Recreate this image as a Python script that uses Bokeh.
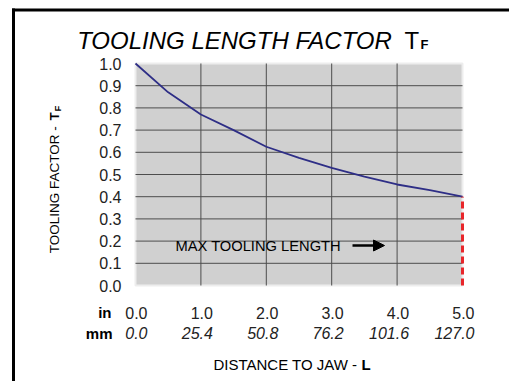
from bokeh.plotting import figure
from bokeh.models import (ColumnDataSource, Label, Arrow, NormalHead, Range1d)
from bokeh.core.properties import value
from bokeh.embed import file_html
from bokeh.resources import INLINE
from math import pi

# ---- data ----
dist_in = [0.0, 0.5, 1.0, 1.5, 2.0, 2.5, 3.0, 3.5, 4.0, 4.5, 5.0]
tooling_factor = [1.0, 0.87, 0.77, 0.70, 0.625, 0.575, 0.53, 0.49, 0.455, 0.43, 0.40]
x_ticks = [0, 1, 2, 3, 4, 5]
x_labels_in = ["0.0", "1.0", "2.0", "3.0", "4.0", "5.0"]
x_labels_mm = ["0.0", "25.4", "50.8", "76.2", "101.6", "127.0"]
y_ticks = [0.0, 0.1, 0.2, 0.3, 0.4, 0.5, 0.6, 0.7, 0.8, 0.9, 1.0]
y_labels = ["0.0", "0.1", "0.2", "0.3", "0.4", "0.5", "0.6", "0.7", "0.8", "0.9", "1.0"]

FONT = "Liberation Sans"

# layout geometry (page pixels)
CX, CY = 0, 0                 # canvas origin on page
W, H = 509, 381               # canvas size
PL, PT, PW, PH = 135, 63, 327, 222   # plot area on page
XMAX, YMAX = x_ticks[-1], y_ticks[-1]

def px2x(px):
    return (px - PL) / PW * XMAX

def py2y(py):
    return (PT + PH - py) / PH * YMAX

p = figure(width=W, height=H, title=None,
           x_range=Range1d(px2x(CX), px2x(CX + W)),
           y_range=Range1d(py2y(CY + H), py2y(CY)),
           output_backend="svg", toolbar_location=None,
           min_border=0)
p.axis.visible = False
p.grid.visible = False
p.outline_line_color = None
p.background_fill_color = "white"
p.border_fill_color = "white"

# outer box (left and top edges)
p.segment(x0=[px2x(13), px2x(11.5)], y0=[py2y(CY + H + 5), py2y(9.5)],
          x1=[px2x(13), px2x(CX + W + 5)], y1=[py2y(8), py2y(9.5)],
          line_color="black", line_width=3)

# plot area
p.quad(left=[x_ticks[0]], right=[x_ticks[-1]], bottom=[y_ticks[0]], top=[y_ticks[-1]],
       fill_color="#d0d0d0", line_color="#ededed", line_width=2)

# grid lines
gx = x_ticks[1:-1]
p.segment(x0=gx, y0=[y_ticks[0]] * len(gx), x1=gx, y1=[y_ticks[-1]] * len(gx),
          line_color="#4d4d4d", line_width=1)
gy = y_ticks[1:-1]
p.segment(x0=[x_ticks[0]] * len(gy), y0=gy, x1=[x_ticks[-1]] * len(gy), y1=gy,
          line_color="#4d4d4d", line_width=1)

# curve
src = ColumnDataSource(dict(x=dist_in, y=tooling_factor))
p.line("x", "y", source=src, line_color="#2e2e86", line_width=1.8)

# red dashed max length line
p.line(x=[dist_in[-1], dist_in[-1]], y=[y_ticks[0], tooling_factor[-1]],
       line_color="#e8262a", line_width=3, line_dash="7 4")

# tick labels
p.text(x=[x_ticks[0]] * len(y_ticks), y=y_ticks, text=y_labels, x_offset=-14,
       text_align="right", text_baseline="middle", text_font=value(FONT),
       text_font_size="16px", text_color="#222222")
p.text(x=x_ticks, y=[y_ticks[0]] * len(x_ticks), text=x_labels_in,
       x_offset=12, y_offset=27, text_align="right", text_baseline="middle",
       text_font=value(FONT), text_font_size="16px", text_color="#222222")
p.text(x=x_ticks, y=[y_ticks[0]] * len(x_ticks), text=x_labels_mm,
       x_offset=12, y_offset=47, text_align="right", text_baseline="middle",
       text_font=value(FONT), text_font_size="16px", text_font_style="italic",
       text_color="#222222")

def lab(text, px, py, size, style="normal", align="left", baseline="middle",
        angle=0.0, color="black"):
    p.add_layout(Label(x=px2x(px), y=py2y(py), text=text, text_font=FONT,
                       text_font_size=size, text_font_style=style,
                       text_align=align, text_baseline=baseline, angle=angle,
                       text_color=color))

# unit labels
lab("in", 111, 312, "15px", "bold", "right")
lab("mm", 112, 333, "15px", "bold", "right")

# title
lab("TOOLING LENGTH FACTOR", 234, 40, "24px", "italic", "center", "alphabetic")
lab("T", 404, 40, "24px", "normal", "left", "alphabetic")
lab("F", 420, 44, "13px", "bold", "left", "alphabetic")

# x axis label
lab("DISTANCE TO JAW - ", 361, 364, "15px", "normal", "right")
lab("L", 361, 364, "15px", "bold", "left")

# y axis label (rotated)
lab("TOOLING FACTOR - ", 54, 122, "13.5px", "normal", "right", "middle", pi / 2)
lab("T", 54, 120, "13.5px", "bold", "left", "middle", pi / 2)
lab("F", 57, 111, "9.5px", "bold", "left", "middle", pi / 2)

# annotation text + arrow
lab("MAX TOOLING LENGTH", 175, 245, "14.7px", "normal", "left")
p.add_layout(Arrow(x_start=px2x(352), y_start=py2y(245), x_end=px2x(384), y_end=py2y(245),
                   line_width=2.5, line_color="black",
                   end=NormalHead(size=11, fill_color="black", line_color="black")))

open("out.html", "w").write(file_html(p, INLINE))
